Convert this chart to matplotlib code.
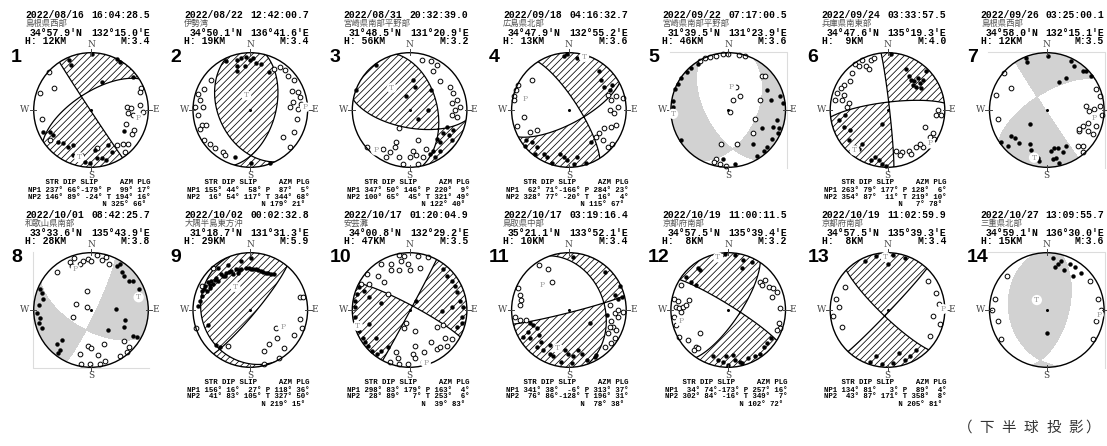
import numpy as np
import matplotlib.pyplot as plt
from matplotlib.patches import Circle

# event headers
dates = ["2022/08/16", "2022/08/22", "2022/08/31", "2022/09/18", "2022/09/22", "2022/09/24", "2022/09/26",
         "2022/10/01", "2022/10/02", "2022/10/17", "2022/10/17", "2022/10/19", "2022/10/19", "2022/10/27"]
times = ["16:04:28.5", "12:42:00.7", "20:32:39.0", "04:16:32.7", "07:17:00.5", "03:33:57.5", "03:25:00.1",
         "08:42:25.7", "00:02:32.8", "01:20:04.9", "03:19:16.4", "11:00:11.5", "11:02:59.9", "13:09:55.7"]
regions = ["島根県西部", "伊勢湾", "宮崎県南部平野部", "広島県北部", "宮崎県南部平野部", "兵庫県南東部", "島根県西部",
           "和歌山県南部", "大隅半島東方沖", "安芸灘", "鳥取県中部", "京都府南部", "京都府南部", "三重県北部"]
lats = ["34°57.9'N", "34°50.1'N", "31°48.5'N", "34°47.9'N", "31°39.5'N", "34°47.6'N", "34°58.0'N",
        "33°33.6'N", "31°18.7'N", "34°00.8'N", "35°21.1'N", "34°57.5'N", "34°57.5'N", "34°59.1'N"]
lons = ["132°15.0'E", "136°41.6'E", "131°20.9'E", "132°55.2'E", "131°23.9'E", "135°19.3'E", "132°15.1'E",
        "135°43.9'E", "131°31.3'E", "132°29.2'E", "133°52.1'E", "135°39.4'E", "135°39.3'E", "136°30.0'E"]
depths = [12, 19, 56, 13, 46, 9, 12, 28, 29, 47, 10, 8, 8, 15]
mags = [3.4, 3.4, 3.2, 3.6, 3.6, 4.0, 3.5, 3.8, 5.9, 3.5, 3.4, 3.2, 3.4, 3.6]

# nodal planes (strike, dip, slip); None = first-motion solution only
np1 = [(237, 66, -179), (155, 44, 58), (347, 50, 146), (62, 71, -166), None, (263, 79, 177), None,
       None, (156, 16, 27), (298, 83, 179), (341, 38, -6), (34, 74, -173), (134, 81, 3), None]
np2 = [(146, 89, -24), (16, 54, 117), (100, 65, 45), (328, 77, -20), None, (354, 87, 11), None,
       None, (41, 83, 105), (28, 89, 7), (76, 86, -128), (302, 84, -16), (43, 87, 171), None]
# principal axes (azimuth, plunge)
p_axes = [(99, 17), (87, 5), (220, 9), (284, 23), (8, 57), (128, 6), (99, 17),
          (339, 25), (118, 36), (163, 4), (313, 37), (257, 16), (89, 4), (95, 10)]
t_axes = [(194, 16), (344, 68), (321, 49), (16, 4), (266, 4), (219, 10), (195, 15),
          (75, 15), (327, 50), (253, 6), (196, 31), (349, 7), (358, 8), (315, 70)]
n_axes = [(325, 66), (179, 21), (122, 40), (115, 67), None, (7, 78), None,
          None, (219, 15), (39, 83), (78, 38), (102, 72), (205, 81), None]

# station polarities, percent of the net radius (x east, y north)
push_pts = [
    [(-38, 87), (-35, 78), (1, 97), (45, 89), (51, 84), (74, 58), (19, 48), (-72, -38), (-83, -38), (-66, -44),
     (-57, -55), (-48, -58), (-40, -64), (-32, -61), (-31, -78), (-16, -78), (-10, -90), (-2, -93), (7, -70),
     (10, -84), (19, -83), (26, -87), (30, -61), (36, -73), (58, -37)],
    [(-24, 87), (-16, 90), (-7, 92), (-1, 88), (5, 91), (10, 82), (19, 81), (-23, 77), (-10, 76), (-24, 68),
     (32, 67), (-27, -82), (2, -92), (34, -92), (-42, 85)],
    [(-59, 78), (-93, 35), (6, 53), (9, 40), (-6, 24), (15, -15), (38, 35), (32, 0), (47, -50), (53, -56),
     (59, -41), (68, -44), (76, -35), (65, -29), (53, -71), (41, -71), (44, -82), (35, -76), (74, -53)],
    [(-9, 94), (-3, 97), (15, 91), (53, 68), (56, 53), (62, 41), (71, 35), (76, 44), (-74, -53), (-76, -62),
     (-65, -56), (-56, -65), (-59, -76), (-44, -76), (-38, -82), (-15, -76), (-9, -82), (-3, -88), (9, -95),
     (15, -82), (29, -92), (38, -56), (-29, -93)],
    [(-65, 73), (-72, 66), (-82, 55), (-88, 45), (-92, 37), (-97, 15), (-97, 6), (-82, -53), (-53, 80),
     (68, 35), (74, 18), (91, 24), (96, 12), (85, -18), (88, -32), (87, -41), (76, -50), (59, -32), (44, -59),
     (62, -72), (50, -80), (68, -65), (79, -29), (12, -94), (-9, -85)],
    [(6, 97), (32, 71), (38, 59), (41, 53), (47, 50), (50, 41), (56, 47), (59, 38), (44, 44), (62, 53),
     (68, 68), (53, 56), (-85, -18), (-76, -29), (-65, -35), (-68, -53), (-56, -65), (-50, -68), (-44, -59),
     (-29, -88), (-21, -82), (-15, -88), (-9, -94), (-3, -97), (-9, -24), (-74, -9)],
    [(-36, 90), (-35, 83), (2, 94), (42, 85), (48, 77), (63, 68), (69, 68), (77, 59), (34, 56), (22, 48),
     (-30, -25), (-80, -55), (-62, -45), (-56, -48), (-48, -57), (-68, -63), (-30, -60), (-27, -69), (-16, -83),
     (-13, -89), (8, -72), (13, -66), (19, -66), (28, -74), (34, -63), (22, -92), (10, -86), (16, -83)],
    [(46, 77), (51, 80), (54, 66), (57, 60), (66, 51), (74, 51), (83, 37), (43, 1), (60, -17), (57, -30),
     (29, -35), (74, -46), (81, -47), (-89, 37), (-86, 29), (-83, 20), (-91, 9), (-94, -6), (-89, -14),
     (-91, -23), (-86, -31), (-60, -60), (-51, -53), (-54, -69), (-57, -75)],
    [(-85, 33), (-79, 42), (-74, 48), (-68, 51), (-59, 56), (-51, 62), (-42, 65), (-33, 68), (-25, 71),
     (-16, 72), (-7, 74), (1, 72), (10, 71), (18, 68), (27, 65), (36, 63), (41, 62), (-71, 39), (-76, 33),
     (-65, 45), (-56, 51), (-45, 59), (-30, 62), (-22, 65), (-85, 25), (-88, 16), (-91, 7), (-74, -27),
     (-59, -61), (-53, -64), (-56, 74), (-39, 79), (-16, 85), (1, 91), (-62, 53), (-48, 60), (-37, 66),
     (-20, 70), (-3, 73), (5, 72), (14, 70), (22, 67), (31, 64), (-80, 37), (-70, 44)],
    [(59, 72), (65, 60), (74, 51), (79, 42), (82, 31), (88, 16), (94, 5), (91, -13), (92, -22), (82, -30),
     (12, 16), (56, -1), (74, 5), (-88, 40), (-92, 28), (-95, 16), (-96, 5), (-96, -13), (-93, -24),
     (-88, -36), (-82, -48), (-77, -56), (-72, -63), (-65, -71), (-57, -76), (-50, -71), (-38, -65),
     (-71, -24), (-59, -48), (-80, 34), (-71, 22), (-50, 13)],
    [(8, 93), (63, 67), (89, 42), (80, 26), (86, 20), (92, 23), (37, -23), (66, -9), (-68, -23), (-62, -26),
     (-56, -32), (-71, -38), (-80, -47), (-68, -49), (-53, -44), (-48, -55), (-56, -64), (-45, -70), (-33, -61),
     (-33, -76), (-27, -81), (-13, -90), (-7, -70), (-1, -76), (8, -81), (16, -70), (22, -76), (31, -88),
     (5, -93), (45, -82), (48, -78)],
    [(-6, 97), (12, 96), (26, 87), (41, 84), (24, 73), (-53, 73), (-50, 70), (-74, 58), (-65, 49), (-56, 44),
     (74, -49), (68, -58), (62, -64), (56, -76), (47, -81), (35, -84), (24, -93), (12, -87), (0, -96),
     (-9, -90), (-18, -87), (-26, -81), (-3, -81), (9, -78), (21, -90)],
    [(-20, 95), (10, 96), (30, 90), (-40, 85), (0, 80), (-30, -90), (-10, -95), (10, -92), (30, -88),
     (40, -80), (20, -75), (-20, -80), (50, -70)],
    [(10, 90), (25, 85), (40, 80), (30, 70), (50, 75), (15, 75), (60, 65), (45, 60), (0, -40), (20, 80)],
]
dilat_pts = [
    [(-74, 67), (-65, 39), (-89, 29), (-86, -15), (-72, -52), (62, 6), (69, 3), (65, -6), (74, -9), (85, 8),
     (90, -3), (88, 38), (85, 31), (61, -25), (71, -42), (75, -35), (65, -60), (55, -60), (59, -74), (46, -61),
     (10, -67)],
    [(42, 72), (51, 75), (60, 69), (66, 60), (77, 52), (72, 34), (83, 31), (86, 23), (74, 14), (89, 11), (83, 2),
     (-68, 52), (-80, 37), (-91, 28), (-88, 17), (-96, 5), (-83, 5), (-91, -9), (-85, -27), (-88, -33),
     (-77, -27), (-80, -53), (-71, -59), (-62, -67), (-48, -73), (-45, -79), (57, -47), (69, -65), (77, -38),
     (82, -15), (69, 5)],
    [(21, 88), (38, 85), (47, 79), (41, 68), (53, 50), (71, 41), (76, 29), (82, 18), (74, 12), (88, 6), (79, 0),
     (74, -9), (82, -12), (-18, -32), (15, -53), (-24, -56), (-26, -65), (-35, -74), (-41, -82), (-18, -82),
     (-12, -94), (0, -82), (12, -79), (15, -94), (24, -82), (29, -68), (6, -71), (-74, -65), (-47, -68)],
    [(-65, 53), (-88, 44), (-92, 35), (-96, 24), (-96, 18), (-79, -12), (-91, -28), (-68, -38), (-56, -35),
     (68, 26), (74, 18), (82, 24), (94, 21), (85, 6), (71, 0), (79, -6), (82, -26), (74, -29), (62, -32),
     (53, -41), (59, -53), (68, -65), (76, -59), (47, -47)],
    [(-50, 86), (-41, 90), (-32, 93), (-21, 95), (-9, 97), (0, 97), (18, 96), (29, 94), (59, 60), (65, 60),
     (56, 18), (47, -15), (44, -41), (9, 18), (21, 24), (3, -3), (-12, -59), (15, -60), (-21, -85), (-15, -94),
     (-3, -97), (-24, -91), (14, 40)],
    [(-56, 80), (-44, 88), (-29, 88), (-24, 91), (-50, 76), (-38, 76), (-32, 71), (-62, 65), (-65, 50),
     (-76, 44), (-82, 38), (-88, 29), (-76, 26), (-91, 18), (-79, 18), (-71, 6), (-68, 12), (88, 0), (85, -9),
     (94, -9), (65, -29), (79, -41), (74, -47), (82, -50), (62, -65), (50, -65), (38, -71), (26, -74),
     (21, -79), (15, -71), (41, -76), (56, -59)],
    [(-74, 65), (-62, 39), (-88, 27), (-85, -16), (86, 36), (92, 24), (69, 7), (74, -2), (83, 1), (92, 7),
     (96, -8), (80, -13), (72, -22), (63, -28), (57, -37), (72, -37), (80, -42), (86, -28), (63, -63),
     (54, -63), (63, -74), (57, -34)],
    [(-37, 83), (-29, 90), (-20, 81), (-14, 86), (-5, 89), (0, 86), (11, 96), (20, 87), (27, 93), (31, 80),
     (-60, 66), (-34, 77), (-7, 33), (-26, 11), (-7, 6), (-31, -13), (58, -54), (66, -65), (63, -73), (50, -81),
     (-6, -62), (0, -67), (23, -60), (-20, -77), (13, -78), (-17, -95), (-1, -94), (16, -94), (24, -89)],
    [(-65, 74), (-85, 42), (-94, -31), (87, 23), (92, 23), (87, -16), (90, -31), (76, -43), (44, -31),
     (47, -48), (33, -59), (24, -71), (59, -67), (50, -84), (-39, -63), (24, -94)],
    [(-18, 96), (-9, 95), (15, 95), (32, 92), (-50, 80), (-32, 80), (-15, 86), (-3, 80), (0, 69), (-18, 69),
     (-32, 69), (18, 74), (-74, 63), (-56, 60), (-44, 48), (-85, 45), (-71, 45), (-38, 28), (-6, -22),
     (-9, -31), (9, -36), (47, -30), (59, -27), (62, -49), (74, -51), (9, -62), (38, -56), (47, -68), (53, -65),
     (65, -62), (26, -74), (6, -77), (9, -83), (-24, -74), (-21, -83), (-35, -91), (-18, -95), (-3, -95),
     (24, -91)],
    [(-53, 78), (-36, 71), (-30, 48), (-88, 38), (-85, 26), (-83, 17), (-85, 9), (-94, -12), (-85, -17),
     (-74, -17), (72, 9), (80, -6), (86, 0), (95, -3), (86, -12), (74, -20), (77, -29), (83, -35), (80, -49),
     (74, -58), (69, -41), (63, -64), (72, -29)],
    [(-82, 44), (-94, 20), (-88, 15), (-91, 6), (-85, 3), (-79, 6), (-82, -3), (-74, 9), (-68, 17), (-94, -12),
     (-91, -26), (-85, -47), (-71, -53), (-50, -41), (-56, -64), (-59, -70), (-53, -67), (56, 49), (59, 44),
     (65, 52), (71, 41), (79, 38), (85, 32), (76, 23), (91, 3), (88, -23), (90, -32), (85, -35)],
    [(-90, 20), (-85, 5), (-95, -10), (-80, -30), (-75, 40), (85, 30), (90, 10), (80, -10), (92, -25),
     (70, 50), (75, -45)],
    [(-90, 20), (-85, -20), (-80, -50), (-70, 60), (-95, 0), (90, 20), (85, -20), (80, -50), (95, 0), (75, 50)],
]

W, H = 1107, 446
fig = plt.figure(figsize=(W / 100, H / 100), dpi=100)
plt.rcParams['hatch.linewidth'] = 0.55
plt.rcParams['hatch.color'] = 'black'

MONO = 'Liberation Mono'
JP = 'Noto Sans CJK JP'


def fx(px):
    return px / W


def fy(py):
    return 1 - py / H


def sdr_vectors(strike, dip, rake):
    s, d, r = np.radians([strike, dip, rake])
    n = np.array([-np.sin(d) * np.sin(s), np.sin(d) * np.cos(s), -np.cos(d)])
    u = np.array([np.cos(r) * np.cos(s) + np.cos(d) * np.sin(r) * np.sin(s),
                  np.cos(r) * np.sin(s) - np.cos(d) * np.sin(r) * np.cos(s),
                  -np.sin(r) * np.sin(d)])
    return n, u


def axis_vector(azm, plg):
    a, p = np.radians([azm, plg])
    return np.array([np.cos(p) * np.cos(a), np.cos(p) * np.sin(a), np.sin(p)])


def project(azm, plg):
    # lower hemisphere, equal area (Schmidt)
    theta = np.radians(90 - plg)
    r = np.sqrt(2) * np.sin(theta / 2)
    a = np.radians(azm)
    return r * np.sin(a), r * np.cos(a)


g = np.linspace(-1.02, 1.02, 421)
GX, GY = np.meshgrid(g, g)
GR = np.clip(np.hypot(GX, GY), 0, np.sqrt(2))
th = 2 * np.arcsin(GR / np.sqrt(2))
az = np.arctan2(GX, GY)
RAYS = np.stack([np.sin(th) * np.cos(az), np.sin(th) * np.sin(az), np.cos(th)])

R_PX = 57.3
for i in range(14):
    col, row = i % 7, i // 7
    cx = 91 + 159.3 * col
    cy = 110 + 200 * row
    half = 1.25 * R_PX
    ax = fig.add_axes([fx(cx - half), fy(cy + half), 2 * half / W, 2 * half / H])
    ax.set_xlim(-1.25, 1.25)
    ax.set_ylim(-1.25, 1.25)
    ax.axis('off')

    rim = Circle((0, 0), 1, fc='white', ec='none', zorder=0)
    ax.add_patch(rim)

    if np1[i] is not None:
        n, u = sdr_vectors(*np1[i])
    else:
        T = axis_vector(*t_axes[i])
        P = axis_vector(*p_axes[i])
        n, u = T + P, T - P
    Z = np.tensordot(n, RAYS, 1) * np.tensordot(u, RAYS, 1)
    zmax = np.abs(Z).max() + 1

    if np1[i] is not None:
        cs = ax.contourf(GX, GY, Z, levels=[0, zmax], colors='none', hatches=['/////'], zorder=1)
        cs.set_clip_path(rim)
        cl = ax.contour(GX, GY, Z, levels=[0], colors='k', linewidths=0.9, zorder=2)
        cl.set_clip_path(rim)
    else:
        cs = ax.contourf(GX, GY, Z, levels=[0, zmax], colors=['#d2d2d2'], zorder=1)
        cs.set_clip_path(rim)
        # faint frame around the net
        if i == 7:
            ax.plot([-1.02, -1.02, 1.02], [1.02, -1.02, -1.02], color='#dcdcdc', lw=0.8, zorder=0.5)
        else:
            ax.plot([-1.02, 1.02, 1.02], [1.02, 1.02, -1.02], color='#dcdcdc', lw=0.8, zorder=0.5)

    ax.add_patch(Circle((0, 0), 1, fill=False, ec='k', lw=1.0, zorder=5))

    # compass marks; the east letter of the last column falls past the sheet edge
    lab = dict(fontsize=6.5, family='DejaVu Serif', color='#444444', zorder=6)
    ax.plot([0, 0], [0.96, 1.07], color='#444444', lw=0.7, zorder=6)
    ax.plot([0, 0], [-0.96, -1.07], color='#444444', lw=0.7, zorder=6)
    ax.plot([-1.07, -0.96], [0, 0], color='#444444', lw=0.7, zorder=6)
    ax.plot([0.96, 1.07], [0, 0], color='#444444', lw=0.7, zorder=6)
    ax.text(0, 1.14, 'N', ha='center', va='center', **lab)
    ax.text(0, -1.15, 'S', ha='center', va='center', **lab)
    ax.text(-1.07, 0, 'W', ha='right', va='center', **lab)
    if cx + 1.07 * R_PX + 7 < W:
        ax.text(1.07, 0, 'E', ha='left', va='center', **lab)

    ax.plot(0, 0, 'o', ms=1.2, color='k', zorder=4)

    pp = np.array(push_pts[i], dtype=float) / 100
    dp = np.array(dilat_pts[i], dtype=float) / 100
    ax.plot(dp[:, 0], dp[:, 1], 'o', ms=3.4, mfc='white', mec='black', mew=0.7, zorder=3)
    ax.plot(pp[:, 0], pp[:, 1], 'o', ms=2.8, mfc='black', mec='black', mew=0.3, zorder=3)

    for name, axv in (('P', p_axes[i]), ('T', t_axes[i])):
        px, py = project(*axv)
        ax.text(px, py, name, ha='center', va='center', fontsize=5.5, family='DejaVu Serif',
                color='#9a9a9a', zorder=7,
                bbox=dict(boxstyle='circle,pad=0.15', fc='white', ec='none'))

    # header
    right = min(cx + 59, W - 3)
    mono = dict(family=MONO, weight='bold', fontsize=7, va='center')
    fig.text(fx(cx - 66), fy(cy - 95), dates[i], ha='left', **mono)
    fig.text(fx(right), fy(cy - 95), times[i], ha='right', **mono)
    fig.text(fx(cx - 66), fy(cy - 86.5), regions[i], ha='left', va='center', family=JP,
             fontsize=6, color='#555555')
    fig.text(fx(cx - 61), fy(cy - 77), lats[i], ha='left', **mono)
    fig.text(fx(right), fy(cy - 77), lons[i], ha='right', **mono)
    fig.text(fx(cx - 66), fy(cy - 69), 'H:%3dKM' % depths[i], ha='left', **mono)
    fig.text(fx(right), fy(cy - 69), 'M:%.1f' % mags[i], ha='right', **mono)

    fig.text(fx(cx - 80), fy(cy - 52), str(i + 1), ha='left', va='center', family='Liberation Sans',
             weight='bold', fontsize=14)

    if np1[i] is not None:
        small = dict(family=MONO, weight='bold', fontsize=5.3, va='center', ha='left')
        rows = ["    STR DIP SLIP     AZM PLG",
                "NP1%4d°%3d°%4d° P%4d°%3d°" % (np1[i] + p_axes[i]),
                "NP2%4d°%3d°%4d° T%4d°%3d°" % (np2[i] + t_axes[i]),
                "                 N%4d°%3d°" % n_axes[i]]
        for k, line in enumerate(rows):
            fig.text(fx(cx - 63), fy(cy + 73 + 7 * k), line, **small)

note_chars = "（下半球投影）"
note_x = [965, 987, 1009, 1031, 1054, 1076, 1093]
for ch, x in zip(note_chars, note_x):
    fig.text(fx(x), fy(428), ch, ha='center', va='center', family=JP, fontsize=10.5, color='#333333')

fig.savefig('out.png', dpi=100)
